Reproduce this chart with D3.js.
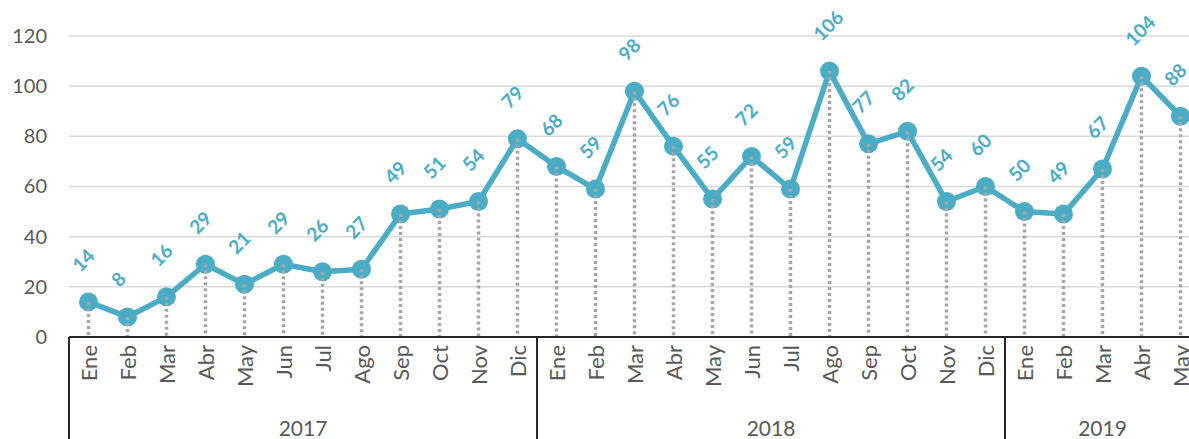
<!DOCTYPE html>
<html>
<head>
<meta charset="utf-8">
<script src="https://cdn.jsdelivr.net/npm/d3@7"></script>
<style>
  body { margin: 0; background: #fff; }
  svg { display: block; font-family: Lato, "Open Sans", sans-serif; }
</style>
</head>
<body>
<div id="chart"></div>
<script>
const years = ["2017", "2018", "2019"];
const months2017 = ["Ene", "Feb", "Mar", "Abr", "May", "Jun", "Jul", "Ago", "Sep", "Oct", "Nov", "Dic"];
const months2018 = ["Ene", "Feb", "Mar", "Abr", "May", "Jun", "Jul", "Ago", "Sep", "Oct", "Nov", "Dic"];
const months2019 = ["Ene", "Feb", "Mar", "Abr", "May"];
const values2017 = [14, 8, 16, 29, 21, 29, 26, 27, 49, 51, 54, 79];
const values2018 = [68, 59, 98, 76, 55, 72, 59, 106, 77, 82, 54, 60];
const values2019 = [50, 49, 67, 104, 88];
const yTicks = [0, 20, 40, 60, 80, 100, 120];

const W = 1189, H = 439;
const plotLeft = 69, plotBottom = 337, plotTop = 36, bandW = 39;

// flatten into one row per month
const groups = [
  { year: years[0], months: months2017, values: values2017 },
  { year: years[1], months: months2018, values: values2018 },
  { year: years[2], months: months2019, values: values2019 }
];
const data = [];
groups.forEach(g => {
  g.months.forEach((m, i) => {
    data.push({ key: g.year + "-" + m, year: g.year, month: m, value: g.values[i] });
  });
});

const svg = d3.select("#chart").append("svg")
  .attr("width", W)
  .attr("height", H);

const x = d3.scaleBand()
  .domain(data.map(d => d.key))
  .range([plotLeft, plotLeft + bandW * data.length])
  .padding(0);

const y = d3.scaleLinear()
  .domain([0, 120])
  .range([plotBottom, plotTop]);

const cx = d => x(d.key) + x.bandwidth() / 2;

// gridlines + y labels
const yAxis = svg.append("g")
  .attr("transform", "translate(" + plotLeft + ",0)")
  .call(d3.axisLeft(y).tickValues(yTicks).tickSize(0).tickPadding(22));
yAxis.select(".domain").remove();
yAxis.selectAll("text")
  .attr("fill", "#595959")
  .style("font-size", "20px")
  .style("font-family", "Lato, 'Open Sans', sans-serif");

svg.append("g")
  .selectAll("line")
  .data(yTicks.filter(t => t > 0))
  .join("line")
  .attr("x1", plotLeft)
  .attr("x2", W)
  .attr("y1", d => y(d))
  .attr("y2", d => y(d))
  .attr("stroke", "#d9d9d9")
  .attr("stroke-width", 1.5);

// series line
const line = d3.line().x(cx).y(d => y(d.value));
svg.append("path")
  .datum(data)
  .attr("d", line)
  .attr("fill", "none")
  .attr("stroke", "#4bacc6")
  .attr("stroke-width", 5.5)
  .attr("stroke-linejoin", "round");

svg.append("g")
  .selectAll("circle")
  .data(data)
  .join("circle")
  .attr("cx", cx)
  .attr("cy", d => y(d.value))
  .attr("r", 9.5)
  .attr("fill", "#4bacc6");

// dotted drop lines
svg.append("g")
  .selectAll("line")
  .data(data)
  .join("line")
  .attr("x1", cx)
  .attr("x2", cx)
  .attr("y1", d => y(d.value))
  .attr("y2", plotBottom)
  .attr("stroke", "#a6a6a6")
  .attr("stroke-width", 3.5)
  .attr("stroke-dasharray", "3,3");

// value labels
svg.append("g")
  .selectAll("text")
  .data(data)
  .join("text")
  .attr("transform", d => "translate(" + (cx(d) - 8) + "," + (y(d.value) - 29) + ") rotate(-45)")
  .attr("fill", "#4bacc6")
  .style("font-size", "19px")
  .style("font-weight", "bold")
  .text(d => d.value);

// x axis line
svg.append("line")
  .attr("x1", plotLeft)
  .attr("x2", W)
  .attr("y1", plotBottom)
  .attr("y2", plotBottom)
  .attr("stroke", "#262626")
  .attr("stroke-width", 2);

// month labels
svg.append("g")
  .selectAll("text")
  .data(data)
  .join("text")
  .attr("transform", d => "translate(" + cx(d) + "," + (plotBottom + 8) + ") rotate(-90)")
  .attr("text-anchor", "end")
  .attr("dominant-baseline", "central")
  .attr("fill", "#595959")
  .style("font-size", "22px")
  .text(d => d.month);

// year groups
const yearSpan = groups.map(g => {
  const keys = data.filter(d => d.year === g.year).map(d => d.key);
  return { year: g.year, x0: x(keys[0]), x1: x(keys[keys.length - 1]) + x.bandwidth() };
});

svg.append("g")
  .selectAll("line")
  .data(yearSpan)
  .join("line")
  .attr("x1", d => d.x0)
  .attr("x2", d => d.x0)
  .attr("y1", plotBottom)
  .attr("y2", H)
  .attr("stroke", "#262626")
  .attr("stroke-width", 2);

svg.append("g")
  .selectAll("text")
  .data(yearSpan)
  .join("text")
  .attr("x", d => (d.x0 + d.x1) / 2)
  .attr("y", 436)
  .attr("text-anchor", "middle")
  .attr("fill", "#595959")
  .style("font-size", "21px")
  .text(d => d.year);
</script>
</body>
</html>
